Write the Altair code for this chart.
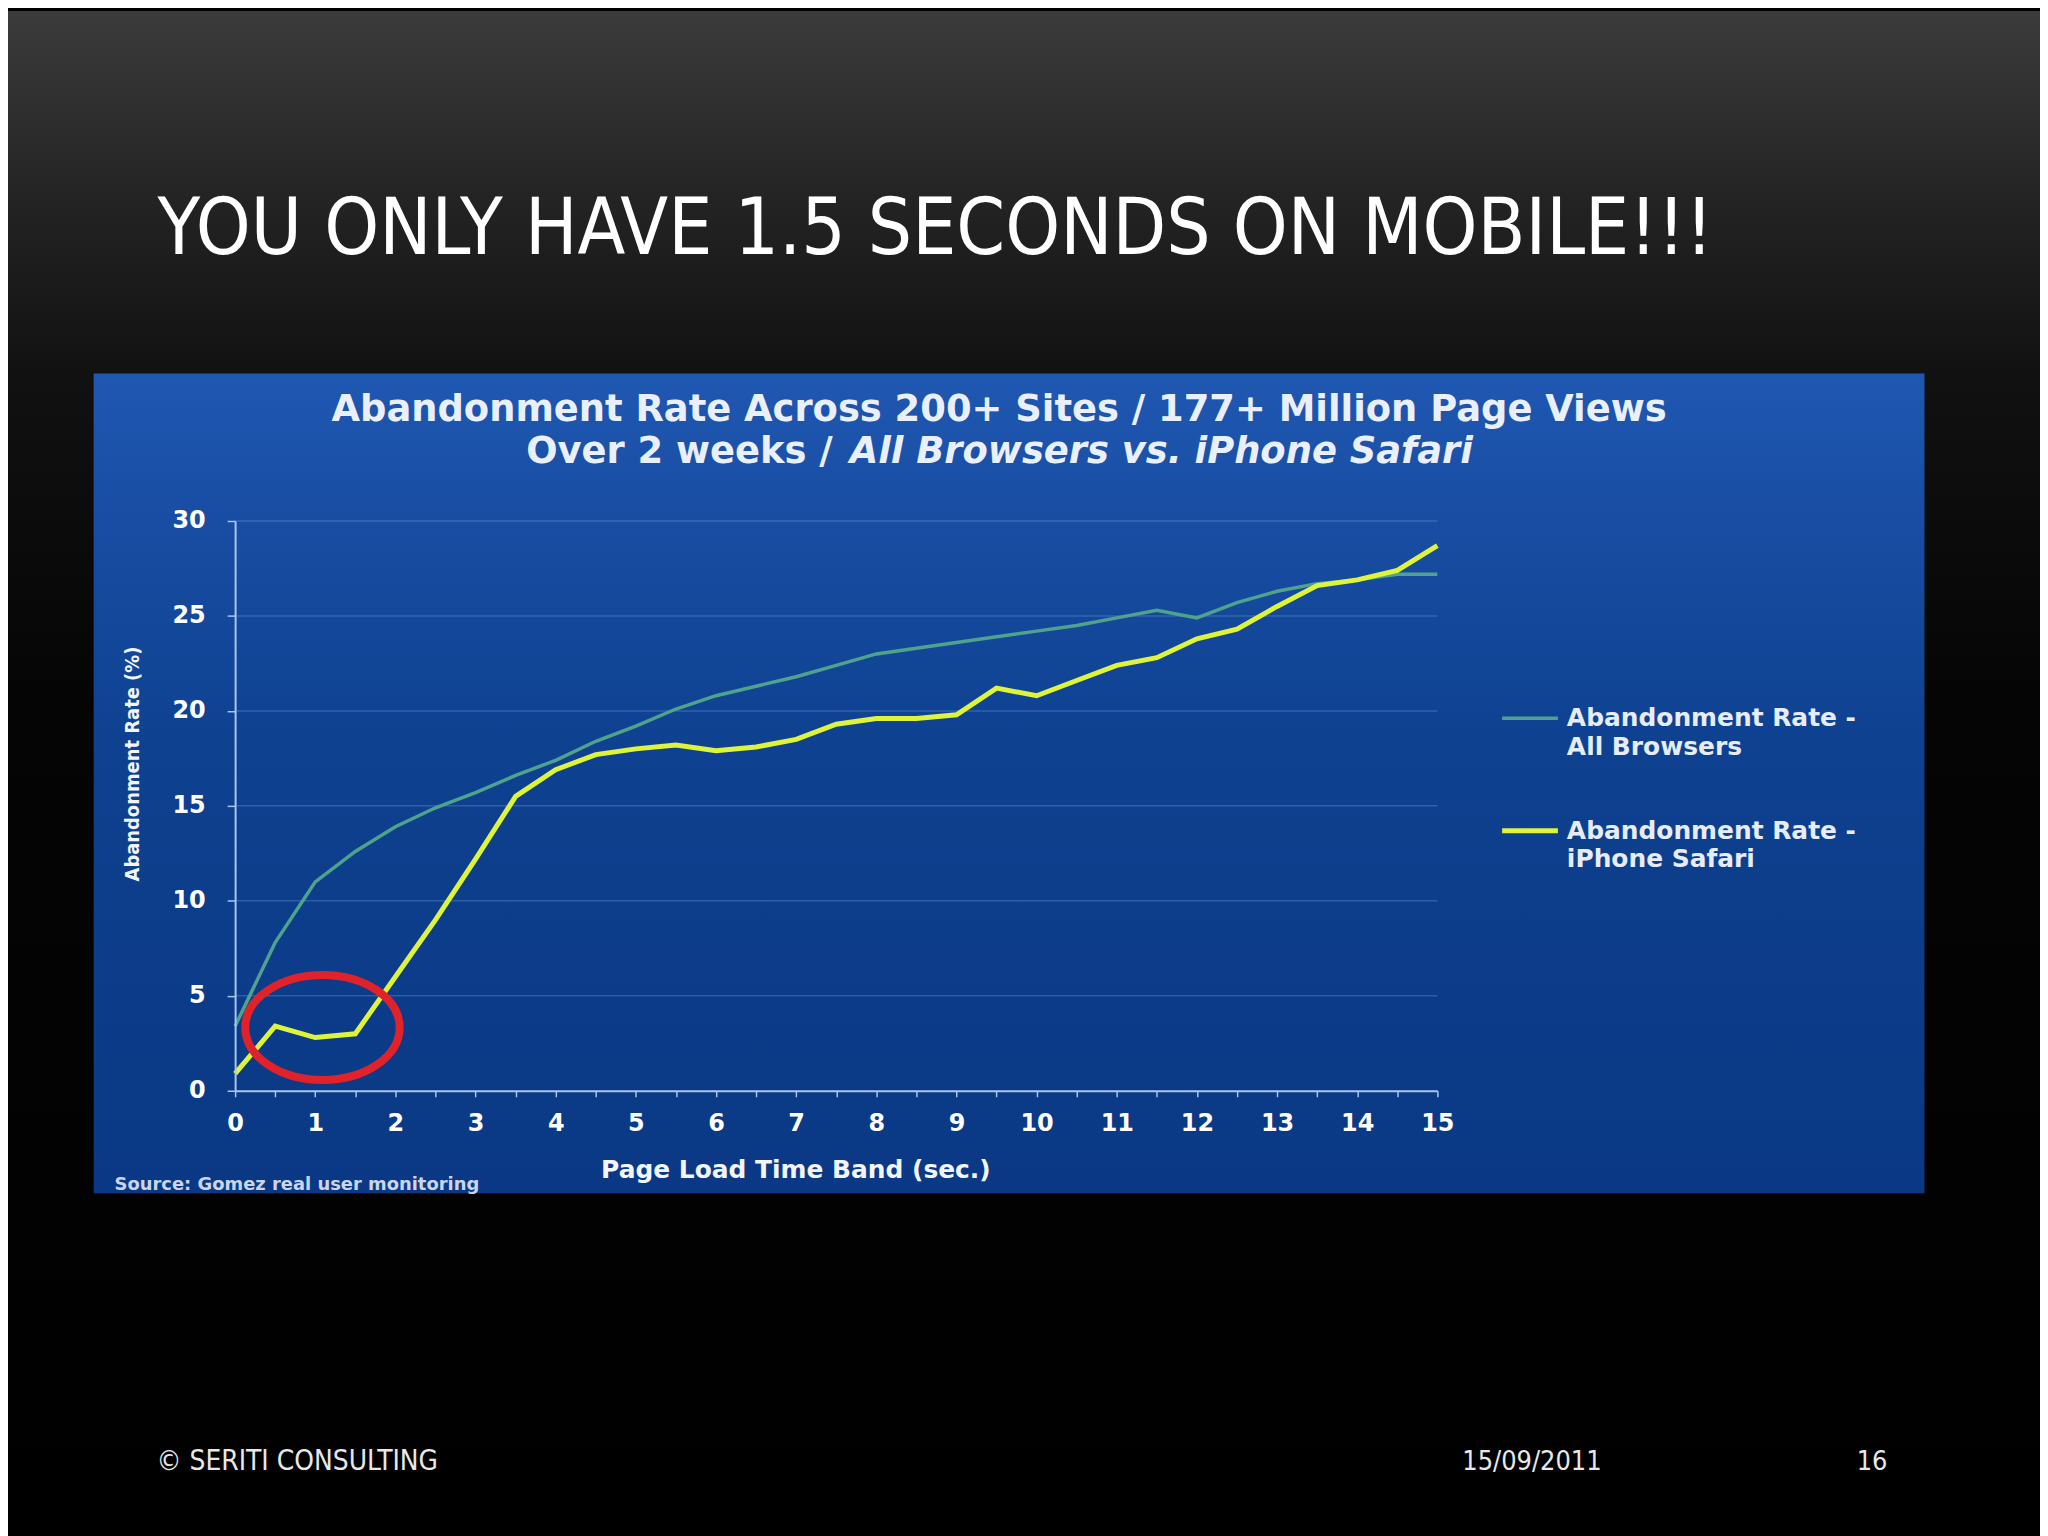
import altair as alt
import pandas as pd

# ---------------- data ----------------
load_time = [0, 0.5, 1, 1.5, 2, 2.5, 3, 3.5, 4, 4.5, 5, 5.5, 6, 6.5, 7, 7.5,
             8, 8.5, 9, 9.5, 10, 10.5, 11, 11.5, 12, 12.5, 13, 13.5, 14, 14.5, 15]
all_browsers = [3.4, 7.8, 11.0, 12.6, 13.9, 14.9, 15.7, 16.6, 17.4, 18.4, 19.2,
                20.1, 20.8, 21.3, 21.8, 22.4, 23.0, 23.3, 23.6, 23.9, 24.2, 24.5,
                24.9, 25.3, 24.9, 25.7, 26.3, 26.7, 26.9, 27.2, 27.2]
iphone_safari = [0.9, 3.4, 2.8, 3.0, 6.0, 9.0, 12.2, 15.5, 16.9, 17.7, 18.0,
                 18.2, 17.9, 18.1, 18.5, 19.3, 19.6, 19.6, 19.8, 21.2, 20.8, 21.6,
                 22.4, 22.8, 23.8, 24.3, 25.5, 26.6, 26.9, 27.4, 28.7]
y_ticks = [0, 5, 10, 15, 20, 25, 30]
grid_levels = [5, 10, 15, 20, 25, 30]
highlight_t = [1.09]
highlight_rate = [3.33]

slide_title = "YOU ONLY HAVE 1.5 SECONDS ON MOBILE!!!"
chart_title_1 = "Abandonment Rate Across 200+ Sites / 177+ Million Page Views"
chart_title_2a = "Over 2 weeks /"
chart_title_2b = "All Browsers vs. iPhone Safari"
x_title = "Page Load Time Band (sec.)"
y_title = "Abandonment Rate (%)"
legend_1 = ["Abandonment Rate -", "All Browsers"]
legend_2 = ["Abandonment Rate -", "iPhone Safari"]
source_note = "Source: Gomez real user monitoring"
footer_left = "\u00a9 SERITI CONSULTING"
footer_date = "15/09/2011"
footer_page = "16"

# ---------------- tables ----------------
df_all = pd.DataFrame({"t": load_time, "rate": all_browsers})
df_ios = pd.DataFrame({"t": load_time, "rate": iphone_safari})
df_grid = pd.DataFrame({"rate": grid_levels})
df_hl = pd.DataFrame({"t": highlight_t, "rate": highlight_rate})
one = pd.DataFrame({"k": [0]})

# ---------------- layout ----------------
W, H = 1207, 572
PL, PT = 228, 512
PR = 2040 - PL - W
PB = 1528 - PT - H

TEAL = "#4fa38c"
YELLOW = "#def33c"
AXIS_C = "#a9c6f0"
BOLD = "DejaVu Sans"
COND = "DejaVu Sans Condensed"

xs = alt.Scale(domain=[0, 15], nice=False, zero=False)
ys = alt.Scale(domain=[0, 30], nice=False)

x_axis = alt.Axis(values=load_time, title=None, grid=False, zindex=2,
                  labelExpr="datum.value % 1 === 0 ? '' + datum.value : ''",
                  domainColor=AXIS_C, domainWidth=2, tickColor=AXIS_C, tickWidth=1.5,
                  tickSize=6, labelColor="#ffffff", labelFont=BOLD, labelFontWeight="bold",
                  labelFontSize=24, labelPadding=15, labelFlush=False)
y_axis = alt.Axis(values=y_ticks, title=None, grid=False, zindex=2,
                  domainColor=AXIS_C, domainWidth=2, tickColor=AXIS_C, tickWidth=1.5,
                  tickSize=8, labelColor="#ffffff", labelFont=BOLD, labelFontWeight="bold",
                  labelFontSize=24, labelPadding=22, labelFlush=False)

X = alt.X("t:Q", scale=xs, axis=x_axis)
Y = alt.Y("rate:Q", scale=ys, axis=y_axis)


def grad(stops):
    return alt.Gradient(gradient="linear", x1=0, x2=0, y1=0, y2=1,
                        stops=[alt.GradientStop(color=c, offset=o) for o, c in stops])


slide_bg = alt.Chart(one).mark_rect(
    fill=grad([(0, "#3b3b3b"), (0.12, "#242424"), (0.24, "#111111"),
               (0.45, "#050505"), (1, "#000000")])
).encode(x=alt.value(-PL), x2=alt.value(W + PR), y=alt.value(-PT), y2=alt.value(H + PB))

panel = alt.Chart(one).mark_rect(
    fill=grad([(0, "#1f58b2"), (0.14, "#1a4fa6"), (0.45, "#0e4190"), (1, "#0a3884")])
).encode(x=alt.value(-142), x2=alt.value(1696), y=alt.value(-148), y2=alt.value(675))

grid = alt.Chart(df_grid).mark_rule(color="#6f9ad8", opacity=0.35, strokeWidth=1.5).encode(
    y=Y, x=alt.value(0), x2=alt.value(W))

line_all = alt.Chart(df_all).mark_line(color=TEAL, strokeWidth=3.5).encode(x=X, y=Y)
line_ios = alt.Chart(df_ios).mark_line(color=YELLOW, strokeWidth=5).encode(x=X, y=Y)

ellipse = alt.Chart(df_hl).mark_point(
    shape="M-1,0A1,0.68,0,1,0,1,0A1,0.68,0,1,0,-1,0Z",
    size=155 * 155, filled=False, stroke="#e0222a", strokeWidth=8, opacity=1
).encode(x=X, y=Y)


def txt(text, x, y, size, font=BOLD, weight="bold", color="#ffffff", align="left",
        baseline="middle", style="normal", angle=None, opacity=1):
    kw = dict(text=text, fontSize=size, font=font, fontWeight=weight, color=color,
              align=align, baseline=baseline, fontStyle=style, opacity=opacity)
    if angle is not None:
        kw["angle"] = angle
    return alt.Chart(one).mark_text(**kw).encode(x=alt.value(x), y=alt.value(y))


def legend_rule(color, width, y):
    return alt.Chart(one).mark_rule(color=color, strokeWidth=width).encode(
        x=alt.value(1272), x2=alt.value(1328), y=alt.value(y))


LT = "#e6ecf8"
layers = [
    slide_bg, panel, grid, line_all, line_ios, ellipse,
    txt(slide_title, -78, -268, 78, font=COND, weight="normal", baseline="alphabetic"),
    txt(chart_title_1, 767, -111, 37, color="#eaf0fb", align="center"),
    txt(chart_title_2a, 600, -69, 37, color="#eaf0fb", align="right"),
    txt(chart_title_2b, 617, -69, 37, color="#eaf0fb", style="italic"),
    txt(x_title, 563, 652, 25, color="#f2f5fb", align="center"),
    txt(y_title, -102, 244, 20, font=COND, color="#f2f5fb", align="center", angle=270),
    legend_rule(TEAL, 3.5, 198),
    txt(legend_1[0], 1337, 198, 25, color=LT),
    txt(legend_1[1], 1337, 227, 25, color=LT),
    legend_rule(YELLOW, 5, 311),
    txt(legend_2[0], 1337, 311, 25, color=LT),
    txt(legend_2[1], 1337, 339, 25, color=LT),
    txt(source_note, -121, 667, 18, color="#c9d5ec"),
    txt(footer_left, -79, 945, 28, font=COND, weight="normal", color="#e8e8e8"),
    txt(footer_date, 1232, 945, 27, font=COND, weight="normal", color="#e8e8e8"),
    txt(footer_page, 1628, 945, 27, font=COND, weight="normal", color="#e8e8e8"),
]

chart = alt.layer(*layers).properties(
    width=W, height=H,
    autosize=alt.AutoSizeParams(type="none"),
    padding={"left": PL, "top": PT, "right": PR, "bottom": PB},
    background="#000000",
).configure_view(stroke=None)

chart.save("out.html", embed_options={"renderer": "svg", "actions": False})
